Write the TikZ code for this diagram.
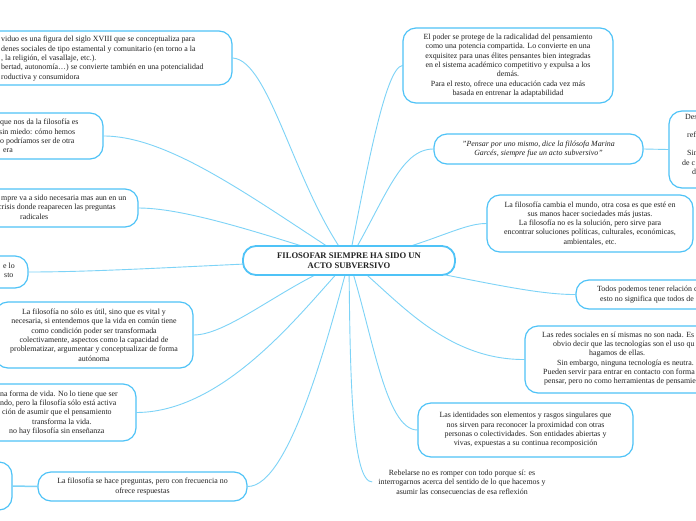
\documentclass[tikz,border=0pt]{standalone}
\usepackage{fontspec}
\setmainfont{Liberation Serif}
\usetikzlibrary{calc}
\definecolor{boxc}{HTML}{4FC3F7}
\definecolor{linec}{HTML}{7DD3F7}
\definecolor{txtc}{HTML}{222222}
\pgfdeclarelayer{bg}
\pgfsetlayers{bg,main}
\newcommand\fs{\fontsize{7.9}{9.3}\selectfont}
\begin{document}
\begin{tikzpicture}[x=1pt,y=-1pt,
  box/.style={draw=boxc, line width=1.2pt, rounded corners=13pt, fill=white, inner sep=0pt, font=\fs, text=txtc, align=center},
  frag/.style={inner sep=0pt, font=\fs, text=txtc, align=left, anchor=west},
  conn/.style={draw=linec, line width=0.9pt},
]
\useasboundingbox (0,0) rectangle (696,520);

% central topic
\node[box, line width=1.8pt, minimum width=212pt, minimum height=29pt, font=\fontsize{8.6}{10}\selectfont\bfseries] (C) at (349,260.5) {FILOSOFAR SIEMPRE HA SIDO UN\\ACTO SUBVERSIVO};

% right side
\node[box, minimum width=210pt, minimum height=75pt] (R1) at (508,65.5) {El poder se protege de la radicalidad del pensamiento\\como una potencia compartida. Lo convierte en una\\exquisitez para unas élites pensantes bien integradas\\en el sistema académico competitivo y expulsa a los\\demás.\\Para el resto, ofrece una educación cada vez más\\basada en entrenar la adaptabilidad};

\node[box, minimum width=209pt, minimum height=30pt, font=\fs\itshape] (R2) at (538.5,149) {"Pensar por uno mismo, dice la filósofa Marina\\Garcés, siempre fue un acto subversivo"};

\node[box, minimum width=91pt, minimum height=77pt] (R3) at (714.5,149.5) {};
\node[frag] (R3a) at (685,117) {Des};
\node[frag] (R3b) at (687,135) {ref};
\node[frag] (R3c) at (687,153) {Sin};
\node[frag] (R3d) at (682,162.5) {de c};
\node[frag] (R3e) at (692,171.5) {d};

\node[box, minimum width=206pt, minimum height=57pt] (R4) at (590,223.5) {La filosofía cambia el mundo, otra cosa es que esté en\\sus manos hacer sociedades más justas.\\La filosofía no es la solución, pero sirve para\\encontrar soluciones políticas, culturales, económicas,\\ambientales, etc.};

\node[box, minimum width=184pt, minimum height=29pt] (R5) at (668,294.5) {};
\node[frag] (R5t) at (597,294.5) {Todos podemos tener relación c\\\hspace*{3pt}esto no significa que todos de};

\node[box, minimum width=195pt, minimum height=67pt] (R6) at (622.5,359.5) {};
\node[frag] (R6t) at (542,358.5) {Las redes sociales en sí mismas no son nada. Es\\\hspace*{11pt}obvio decir que las tecnologías son el uso qu\\\hspace*{47pt}hagamos de ellas.\\\hspace*{15pt}Sin embargo, ninguna tecnología es neutra.\\\hspace*{1pt}Pueden servir para entrar en contacto con forma\\\hspace*{2pt}pensar, pero no como herramientas de pensamie};

\node[box, minimum width=215pt, minimum height=54pt] (R7) at (525.5,430) {Las identidades son elementos y rasgos singulares que\\nos sirven para reconocer la proximidad con otras\\personas o colectividades. Son entidades abiertas y\\vivas, expuestas a su continua recomposición};

\node[inner sep=0pt, font=\fs, text=txtc, align=center] (R8) at (462,482) {Rebelarse no es romper con todo porque sí: es\\interrogarnos acerca del sentido de lo que hacemos y\\asumir las consecuencias de esa reflexión};

% left side
\node[box, minimum width=272pt, minimum height=54pt] (L1) at (96,58) {};
\node[frag] (L1t) at (1,58.5) {viduo es una figura del siglo XVIII que se conceptualiza para\\denes sociales de tipo estamental y comunitario (en torno a la\\, la religión, el vasallaje, etc.).\\bertad, autonomía…) se convierte también en una potencialidad\\roductiva y consumidora};

\node[box, minimum width=143pt, minimum height=46pt] (L2) at (31.5,136) {};
\node[frag] (L2t) at (-1,136) {\hspace*{1pt}que nos da la filosofía es\\sin miedo: cómo hemos\\\hspace*{1pt}o podríamos ser de otra\\\hspace*{4pt}era};

\node[box, minimum width=208pt, minimum height=38pt] (L3) at (34,208) {};
\node[frag] (L3t) at (-2,207) {\hspace*{3pt}mpre va a sido necesaria mas aun en un\\crisis donde reaparecen las preguntas\\\hspace*{22pt}radicales};

\node[box, minimum width=88pt, minimum height=32pt] (L4) at (-16,272) {};
\node[frag] (L4t) at (3,270.5) {e lo\\\hspace*{1pt}sto};

\node[box, minimum width=198pt, minimum height=66pt] (L5) at (94,335) {La filosofía no sólo es útil, sino que es vital y\\necesaria, si entendemos que la vida en común tiene\\como condición poder ser transformada\\colectivamente, aspectos como la capacidad de\\problematizar, argumentar y conceptualizar de forma\\autónoma};

\node[box, minimum width=196pt, minimum height=57pt] (L6) at (38,412.5) {};
\node[frag] (L6t) at (0,413) {na forma de vida. No lo tiene que ser\\ndo, pero la filosofía sólo está activa\\\hspace*{2pt}ción de asumir que el pensamiento\\\hspace*{32pt}transforma la vida.\\\hspace*{9pt}no hay filosofía sin enseñanza};

\node[box, minimum width=72pt, minimum height=48pt] (L7) at (-24,486) {};

\node[box, minimum width=209pt, minimum height=29pt] (L8) at (142.5,486.5) {La filosofía se hace preguntas, pero con frecuencia no\\ofrece respuestas};

% connectors
\begin{pgfonlayer}{bg}
\fill[white] (0,0) rectangle (696,520);
\draw[conn] (C.center) .. controls (295,190) and (270,60) .. (L1.east);
\draw[conn] (C.center) .. controls (255,200) and (170,136) .. (L2.east);
\draw[conn] (C.center) .. controls (280,240) and (190,208) .. (L3.east);
\draw[conn] (C.center) .. controls (250,262) and (120,272) .. (L4.east);
\draw[conn] (C.center) .. controls (290,280) and (230,335) .. (L5.east);
\draw[conn] (C.center) .. controls (310,300) and (230,412) .. (L6.east);
\draw[conn] (C.center) .. controls (330,330) and (290,487) .. (L8.east);
\draw[conn, line width=1.5pt] (L8.west) -- (L7.east);
\draw[conn] (C.center) .. controls (350,380) and (352,482) .. ([xshift=-6pt]R8.west);
\draw[conn] (C.center) .. controls (372,330) and (385,430) .. (R7.west);
\draw[conn] (C.center) .. controls (390,290) and (440,360) .. (R6.west);
\draw[conn] (C.center) .. controls (420,265) and (520,295) .. (R5.west);
\draw[conn] (C.center) .. controls (420,250) and (460,223) .. (R4.west);
\draw[conn] (C.center) .. controls (385,200) and (400,149) .. (R2.west);
\draw[conn] (C.center) .. controls (365,180) and (385,67) .. (R1.west);
\draw[conn] (R2.east) -- (R3.west);
\end{pgfonlayer}
\end{tikzpicture}
\end{document}
